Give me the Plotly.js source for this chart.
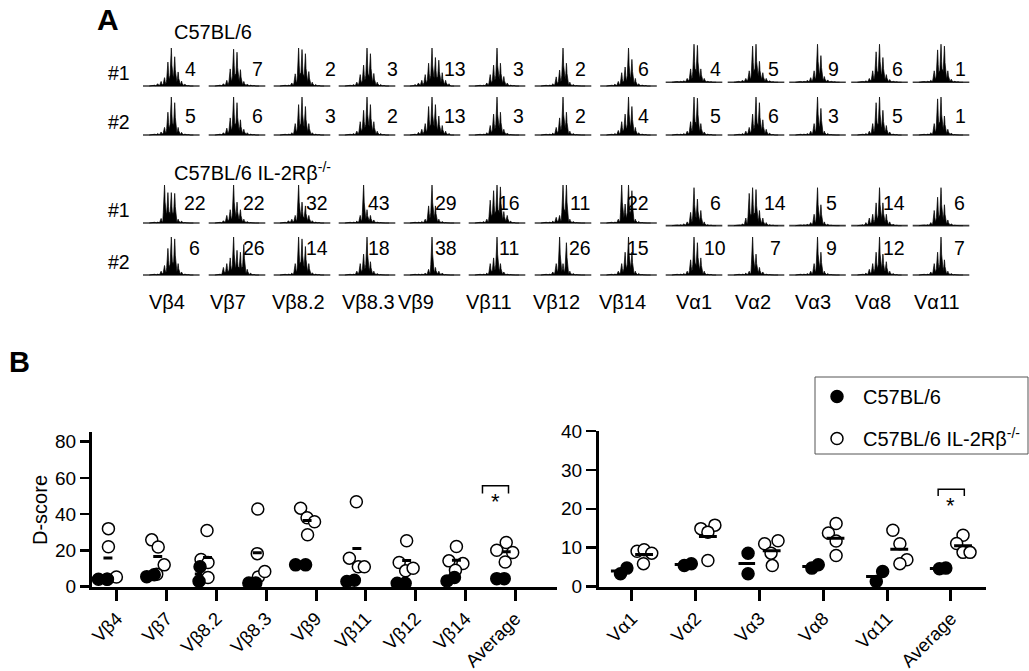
<!DOCTYPE html>
<html><head><meta charset="utf-8">
<script src="https://cdn.plot.ly/plotly-3.0.1.min.js"></script>
<style>html,body{margin:0;padding:0;background:#fff}</style>
</head><body><div id="chart" style="width:1029px;height:671px"></div>
<script>
// ---------------- DATA: panel A (spectratypes) ----------------
const vbGenes = ['Vβ4','Vβ7','Vβ8.2','Vβ8.3','Vβ9','Vβ11','Vβ12','Vβ14'];
const vaGenes = ['Vα1','Vα2','Vα3','Vα8','Vα11'];
const wt1Scores = [4,7,2,3,13,3,2,6,4,5,9,6,1];
const wt2Scores = [5,6,3,2,13,3,2,4,5,6,3,5,1];
const ko1Scores = [22,22,32,43,29,16,11,22,6,14,5,14,6];
const ko2Scores = [6,26,14,18,38,11,26,15,10,7,9,12,7];
// relative peak heights over 11 CDR3-length positions, one list per histogram
const wt1Peaks = [
 [0.03,0.06,0.12,0.22,0.63,1.0,0.77,0.37,0.13,0.05,0.02],
 [0.03,0.06,0.15,0.45,0.97,0.89,0.43,0.12,0.05,0.03,0.02],
 [0.02,0.03,0.08,0.32,1.0,0.96,0.85,0.38,0.1,0.04,0.02],
 [0.02,0.04,0.1,0.3,0.55,1.0,0.85,0.33,0.1,0.04,0.02],
 [0.04,0.08,0.15,0.3,0.6,1.0,0.75,0.68,0.35,0.15,0.06],
 [0.02,0.03,0.08,0.3,0.55,1.0,0.6,0.25,0.08,0.03,0.02],
 [0.02,0.03,0.06,0.24,0.42,1.0,0.6,0.1,0.04,0.02,0.01],
 [0.02,0.05,0.12,0.35,0.5,1.0,0.7,0.2,0.06,0.03,0.02],
 [0.02,0.03,0.04,0.1,0.35,1.0,0.97,0.35,0.1,0.03,0.02],
 [0.03,0.05,0.1,0.3,0.95,1.0,0.55,0.25,0.1,0.04,0.02],
 [0.02,0.03,0.05,0.12,0.3,1.0,0.7,0.15,0.06,0.03,0.02],
 [0.02,0.04,0.1,0.3,0.8,1.0,0.65,0.2,0.07,0.03,0.02],
 [0.02,0.03,0.05,0.3,0.85,1.0,0.95,0.3,0.08,0.03,0.02]];
const wt2Peaks = [
 [0.02,0.04,0.08,0.2,0.6,1.0,0.85,0.2,0.07,0.03,0.02],
 [0.03,0.06,0.18,0.45,1.0,0.85,0.4,0.15,0.06,0.03,0.02],
 [0.02,0.03,0.06,0.3,0.8,1.0,0.75,0.3,0.06,0.03,0.02],
 [0.02,0.04,0.1,0.35,0.65,1.0,0.8,0.35,0.1,0.04,0.02],
 [0.03,0.07,0.15,0.3,0.75,1.0,0.8,0.5,0.25,0.1,0.04],
 [0.02,0.03,0.06,0.25,0.55,1.0,0.6,0.15,0.05,0.02,0.01],
 [0.02,0.03,0.05,0.2,0.45,1.0,0.6,0.1,0.04,0.02,0.01],
 [0.02,0.04,0.12,0.35,0.55,1.0,0.75,0.2,0.06,0.03,0.02],
 [0.02,0.03,0.04,0.1,0.35,1.0,0.97,0.3,0.08,0.03,0.02],
 [0.02,0.04,0.1,0.2,0.55,1.0,0.85,0.4,0.15,0.05,0.02],
 [0.02,0.03,0.04,0.1,0.3,1.0,0.7,0.1,0.04,0.02,0.01],
 [0.02,0.04,0.1,0.3,0.85,1.0,0.65,0.25,0.08,0.03,0.02],
 [0.02,0.03,0.06,0.3,0.95,1.0,0.5,0.15,0.05,0.02,0.01]];
const ko1Peaks = [
 [0.02,0.03,0.12,1.0,0.8,0.8,0.78,0.1,0.05,0.02,0.01],
 [0.02,0.06,0.2,0.35,1.0,0.55,0.35,0.1,0.04,0.02,0.01],
 [0.02,0.06,0.1,0.2,1.0,0.55,0.45,0.2,0.06,0.03,0.02],
 [0.02,0.03,0.05,0.2,1.0,0.35,0.2,0.08,0.03,0.02,0.01],
 [0.02,0.03,0.04,0.1,0.45,1.0,0.45,0.1,0.04,0.02,0.01],
 [0.02,0.04,0.1,0.6,0.85,1.0,0.95,0.3,0.2,0.05,0.02],
 [0.02,0.03,0.05,0.15,0.2,1.0,1.0,0.1,0.04,0.02,0.01],
 [0.02,0.03,0.1,1.0,0.5,1.0,0.85,0.1,0.04,0.02,0.01],
 [0.02,0.03,0.05,0.1,0.35,1.0,0.7,0.4,0.1,0.03,0.02],
 [0.02,0.05,0.2,0.85,1.0,0.95,0.4,0.2,0.08,0.03,0.02],
 [0.02,0.03,0.04,0.08,0.3,1.0,0.55,0.1,0.04,0.02,0.01],
 [0.03,0.08,0.2,0.3,0.6,1.0,0.6,0.3,0.1,0.04,0.02],
 [0.02,0.03,0.08,0.4,0.75,1.0,0.55,0.15,0.05,0.02,0.01]];
const ko2Peaks = [
 [0.02,0.03,0.1,0.25,0.7,1.0,0.95,0.3,0.08,0.03,0.02],
 [0.03,0.2,0.3,0.45,1.0,0.65,0.6,0.8,0.15,0.05,0.02],
 [0.02,0.03,0.05,0.3,1.0,0.95,0.75,0.3,0.06,0.03,0.02],
 [0.02,0.03,0.1,0.3,0.55,1.0,0.35,0.1,0.04,0.02,0.01],
 [0.02,0.03,0.03,0.05,0.15,1.0,0.2,0.1,0.05,0.02,0.01],
 [0.02,0.03,0.05,0.3,0.45,1.0,0.3,0.08,0.03,0.02,0.01],
 [0.02,0.03,0.08,0.3,1.0,0.3,0.85,0.1,0.04,0.02,0.01],
 [0.02,0.03,0.1,0.3,0.6,1.0,0.6,0.1,0.04,0.02,0.01],
 [0.02,0.03,0.04,0.1,0.4,1.0,0.85,0.45,0.1,0.03,0.02],
 [0.02,0.03,0.05,0.1,1.0,0.55,0.2,0.08,0.03,0.02,0.01],
 [0.02,0.03,0.04,0.1,0.3,1.0,0.6,0.1,0.04,0.02,0.01],
 [0.02,0.05,0.15,0.3,0.6,1.0,0.55,0.35,0.1,0.04,0.02],
 [0.02,0.03,0.08,0.3,0.6,1.0,0.4,0.1,0.04,0.02,0.01]];

// ---------------- DATA: panel B (D-scores) ----------------
const vbCats = ['Vβ4','Vβ7','Vβ8.2','Vβ8.3','Vβ9','Vβ11','Vβ12','Vβ14','Average'];
const vbWT = [[4,4],[5.5,6.5],[11,3],[2,2],[12,12],[2.8,3.5],[1.8,1.8],[3.1,5],[4.4,4.4]];
const vbKO = [[32,22,5.3,4],[25.8,21.9,12,6.8],[31,15,13.3,5],[42.8,18.2,5.3,8.3],[43.3,38,35.8,28.6],
              [46.8,15.7,10.9,10.9],[25.3,13.3,8.7,10.1],[22.1,14.2,12.7,9],[24.3,20.1,18.8,13.6]];
const vaCats = ['Vα1','Vα2','Vα3','Vα8','Vα11','Average'];
const vaWT = [[3.3,4.75],[5.4,5.9],[8.6,3.3],[4.75,5.6],[1.3,3.9],[4.6,4.75]];
const vaKO = [[5.9,9.1,9.5,8.6],[14.9,15.8,14,6.7],[11,11.8,8.6,5.4],[16.2,13.8,11.7,8],[14.5,11,6.9,5.9],[13.2,11.1,8.8,8.8]];
const groupNames = ['C57BL/6','C57BL/6 IL-2Rβ<sup>-/-</sup>'];

// ---------------- LAYOUT CONSTANTS (positions / styles) ----------------
const W = 1029, H = 671;
const FONT = 'Liberation Sans, Arial, Helvetica, sans-serif';
const px = x => x / W, py = y => 1 - y / H;
const colCenter = [171.3,237,302,367,432,497,563,628.5,694,756,817.5,879.5,941];
const colLabelX = [167,227.5,298.5,368,416,489,556,622,694,753,813,873,937];
const rowBase = [86,135,223,275];
const vaShift = [0.1,0,-0.07,0];
const rowNumY = [69.5,116.5,203,248.5];
const wtNumDx = [19,20,28,25.5,23,21,17,15,21,17,16,18,19];
const koNumDx = [23.5,17,15,12,14,12,17,9,21,19,14,14,18];
const peakPx = 38, peakStep = 3.4, halfW = 28.3;
// beeswarm horizontal offsets (category units)
const vbWTJitter = [[-0.37,-0.2],[-0.4,-0.25],[-0.33,-0.35],[-0.35,-0.21],[-0.41,-0.21],[-0.38,-0.23],[-0.37,-0.21],[-0.37,-0.22],[-0.37,-0.22]];
const vbKOJitter = [[-0.17,-0.17,-0.01,-0.19],[-0.3,-0.17,-0.05,-0.2],[-0.19,-0.31,-0.17,-0.17],[-0.17,-0.18,-0.16,-0.03],
                    [-0.31,-0.18,-0.03,-0.17],[-0.19,-0.33,-0.15,-0.03],[-0.18,-0.33,-0.2,-0.05],[-0.18,-0.33,-0.05,-0.2],[-0.18,-0.37,-0.05,-0.2]];
const vaWTJitter = [[-0.18,-0.08],[-0.18,-0.07],[-0.18,-0.18],[-0.18,-0.08],[-0.17,-0.07],[-0.18,-0.08]];
const vaKOJitter = [[0.18,0.08,0.19,0.31],[0.08,0.3,0.19,0.19],[0.08,0.29,0.18,0.2],[0.2,0.08,0.2,0.2],[0.09,0.2,0.31,0.2],[0.19,0.09,0.19,0.3]];

// ---------------- BUILD ----------------
const traces = [];
const nVb = vbGenes.length;
function spectraRow(peakSets, r, yax) {
  const xs = [], ys = [], bx = [], by = [];
  peakSets.forEach((peaks, c) => {
    const cx = colCenter[c];
    const y0 = c >= nVb ? vaShift[r] : 0;
    bx.push(cx - halfW, cx + halfW, null); by.push(y0, y0, null);
    const n = peaks.length, mid = (n - 1) / 2;
    xs.push(cx - (mid + 1.5) * peakStep); ys.push(y0);
    for (let k = 0; k < n; k++) {
      const xk = cx + (k - mid) * peakStep, h = peaks[k];
      const hp = k > 0 ? peaks[k - 1] : 0, hn = k < n - 1 ? peaks[k + 1] : 0;
      const vL = 0.35 * Math.min(h, hp), vR = 0.35 * Math.min(h, hn);
      xs.push(xk - peakStep / 2, xk - 1.2, xk - 0.6, xk - 0.3, xk, xk + 0.3, xk + 0.6, xk + 1.2, xk + peakStep / 2);
      ys.push(y0 + vL, y0 + 0.28 * h, y0 + 0.55 * h, y0 + 0.85 * h, y0 + h, y0 + 0.85 * h, y0 + 0.55 * h, y0 + 0.28 * h, y0 + vR);
    }
    xs.push(cx + (mid + 1.5) * peakStep, null); ys.push(y0, null);
  });
  traces.push({x: bx, y: by, xaxis: 'x3', yaxis: yax, mode: 'lines', line: {color: '#3a3a3a', width: 1.6},
               showlegend: false, hoverinfo: 'skip', cliponaxis: false});
  traces.push({x: xs, y: ys, xaxis: 'x3', yaxis: yax, mode: 'lines', fill: 'toself', fillcolor: '#000',
               line: {color: '#000', width: 0.7}, showlegend: false, hoverinfo: 'skip', cliponaxis: false});
}
[wt1Peaks, wt2Peaks, ko1Peaks, ko2Peaks].forEach((set, r) => spectraRow(set, r, 'y' + (r + 3)));

function points(vals, jit, xa, ya, filled, legend) {
  const x = [], y = [];
  vals.forEach((arr, i) => arr.forEach((v, j) => { x.push(i + jit[i][j]); y.push(v); }));
  return {x, y, xaxis: xa, yaxis: ya, mode: 'markers', type: 'scatter', cliponaxis: false,
    name: filled ? groupNames[0] : groupNames[1], legendgroup: filled ? 'wt' : 'ko', showlegend: legend,
    marker: {size: 12, color: filled ? '#000' : '#fff', line: {color: '#000', width: 1.5}, symbol: 'circle'}};
}
function meanLines(vals, center, hw, xa, ya) {
  const x = [], y = [];
  vals.forEach((arr, i) => {
    const m = arr.reduce((a, b) => a + b, 0) / arr.length;
    x.push(i + center - hw, i + center + hw, null); y.push(m, m, null);
  });
  return {x, y, xaxis: xa, yaxis: ya, mode: 'lines', line: {color: '#000', width: 3}, showlegend: false,
          hoverinfo: 'skip', cliponaxis: false};
}
// left plot (Vβ)
traces.push(points(vbKO, vbKOJitter, 'x', 'y', false, false));
traces.push(points(vbWT, vbWTJitter, 'x', 'y', true, false));
traces.push(meanLines(vbWT, -0.36, 0.075, 'x', 'y'));
traces.push(meanLines(vbKO, -0.18, 0.09, 'x', 'y'));
// right plot (Vα)
traces.push(points(vaWT, vaWTJitter, 'x2', 'y2', true, true));
traces.push(points(vaKO, vaKOJitter, 'x2', 'y2', false, true));
traces.push(meanLines(vaWT, -0.2, 0.13, 'x2', 'y2'));
traces.push(meanLines(vaKO, 0.19, 0.14, 'x2', 'y2'));

// annotations
const ann = [];
const txt = (text, x, y, size, opts = {}) => ann.push(Object.assign({text, x: px(x), y: py(y), xref: 'paper', yref: 'paper',
  showarrow: false, xanchor: 'center', yanchor: 'middle', font: {size, family: FONT, color: '#000'}}, opts));
txt('<b>A</b>', 108, 20, 30);
txt('<b>B</b>', 19, 362, 29);
txt('C57BL/6', 172, 32, 20, {xanchor: 'left'});
txt('C57BL/6 IL-2Rβ<sup>-/-</sup>', 172, 172, 20, {xanchor: 'left'});
['#1', '#2', '#1', '#2'].forEach((t, r) => txt(t, 132, rowBase[r] - 13, 19.5, {xanchor: 'right'}));
[wt1Scores, wt2Scores, ko1Scores, ko2Scores].forEach((sc, r) => sc.forEach((v, c) =>
  txt(String(v), colCenter[c] + (r < 2 ? wtNumDx[c] : koNumDx[c]), rowNumY[r], 19.5)));
vbGenes.concat(vaGenes).forEach((g, c) => txt(g, colLabelX[c], 302, 20));
txt('D-score', 40, 510, 20, {textangle: -90});
ann.push({text: '*', x: 7.61, y: 47, xref: 'x', yref: 'y', showarrow: false, font: {size: 22, family: FONT, color: '#000'}});
ann.push({text: '*', x: 5.0, y: 20.8, xref: 'x2', yref: 'y2', showarrow: false, font: {size: 22, family: FONT, color: '#000'}});

const shapes = [
  {type: 'path', xref: 'x', yref: 'y', path: 'M7.343,51.4 L7.343,55.7 L7.866,55.7 L7.866,51.4', line: {color: '#000', width: 1.5}},
  {type: 'path', xref: 'x2', yref: 'y2', path: 'M4.8,23.3 L4.8,25 L5.21,25 L5.21,23.3', line: {color: '#000', width: 1.5}},
  {type: 'rect', xref: 'paper', yref: 'paper', x0: px(815), x1: px(1028), y0: py(454), y1: py(377), line: {color: '#555', width: 1}}
];

const yB0 = py(586.6);
const axB = (extra) => Object.assign({showline: true, linewidth: 3, linecolor: '#000', showgrid: false, zeroline: false,
  ticks: 'outside', tickcolor: '#000', tickfont: {size: 19, family: FONT, color: '#000'}, fixedrange: true}, extra);
const rowAxis = (r) => ({domain: [py(rowBase[r] + 0.3 * peakPx), py(rowBase[r] - 1.2 * peakPx)], range: [-0.3, 1.2],
  anchor: 'x3', visible: false, fixedrange: true});
const xTickFont = {size: 18.5, family: FONT, color: '#000'};

const layout = {
  width: W, height: H, margin: {l: 0, r: 0, t: 0, b: 0}, paper_bgcolor: '#fff', plot_bgcolor: 'rgba(0,0,0,0)',
  font: {family: FONT, color: '#000'}, showlegend: true,
  xaxis: axB({domain: [px(92), px(557)], range: [-0.5, 8.84], anchor: 'y', tickvals: vbCats.map((_, i) => i), ticktext: vbCats,
              tickangle: -45, ticklen: 11, tickwidth: 3, ticklabelstandoff: 0, tickfont: xTickFont}),
  yaxis: axB({domain: [yB0, py(431.7)], range: [0, 85.5], anchor: 'x', tickvals: [0, 20, 40, 60, 80], ticklen: 9, tickwidth: 2.5}),
  xaxis2: axB({domain: [px(599), px(986)], range: [-0.517, 5.55], anchor: 'y2', tickvals: vaCats.map((_, i) => i), ticktext: vaCats,
              tickangle: -45, ticklen: 11, tickwidth: 3, ticklabelstandoff: 0, tickfont: xTickFont}),
  yaxis2: axB({domain: [yB0, py(431)], range: [0, 40], anchor: 'x2', tickvals: [0, 10, 20, 30, 40], ticklen: 10, tickwidth: 2.5}),
  xaxis3: {domain: [0, 1], range: [0, W], anchor: 'y3', visible: false, fixedrange: true},
  yaxis3: rowAxis(0), yaxis4: rowAxis(1), yaxis5: rowAxis(2), yaxis6: rowAxis(3),
  legend: {x: px(811), y: py(377), xanchor: 'left', yanchor: 'top', borderwidth: 0, bgcolor: 'rgba(0,0,0,0)',
           font: {size: 20, family: FONT, color: '#000'}, itemwidth: 42, traceorder: 'grouped', tracegroupgap: 13},
  annotations: ann, shapes: shapes
};
Plotly.newPlot('chart', traces, layout, {displayModeBar: false, staticPlot: true});
</script></body></html>
